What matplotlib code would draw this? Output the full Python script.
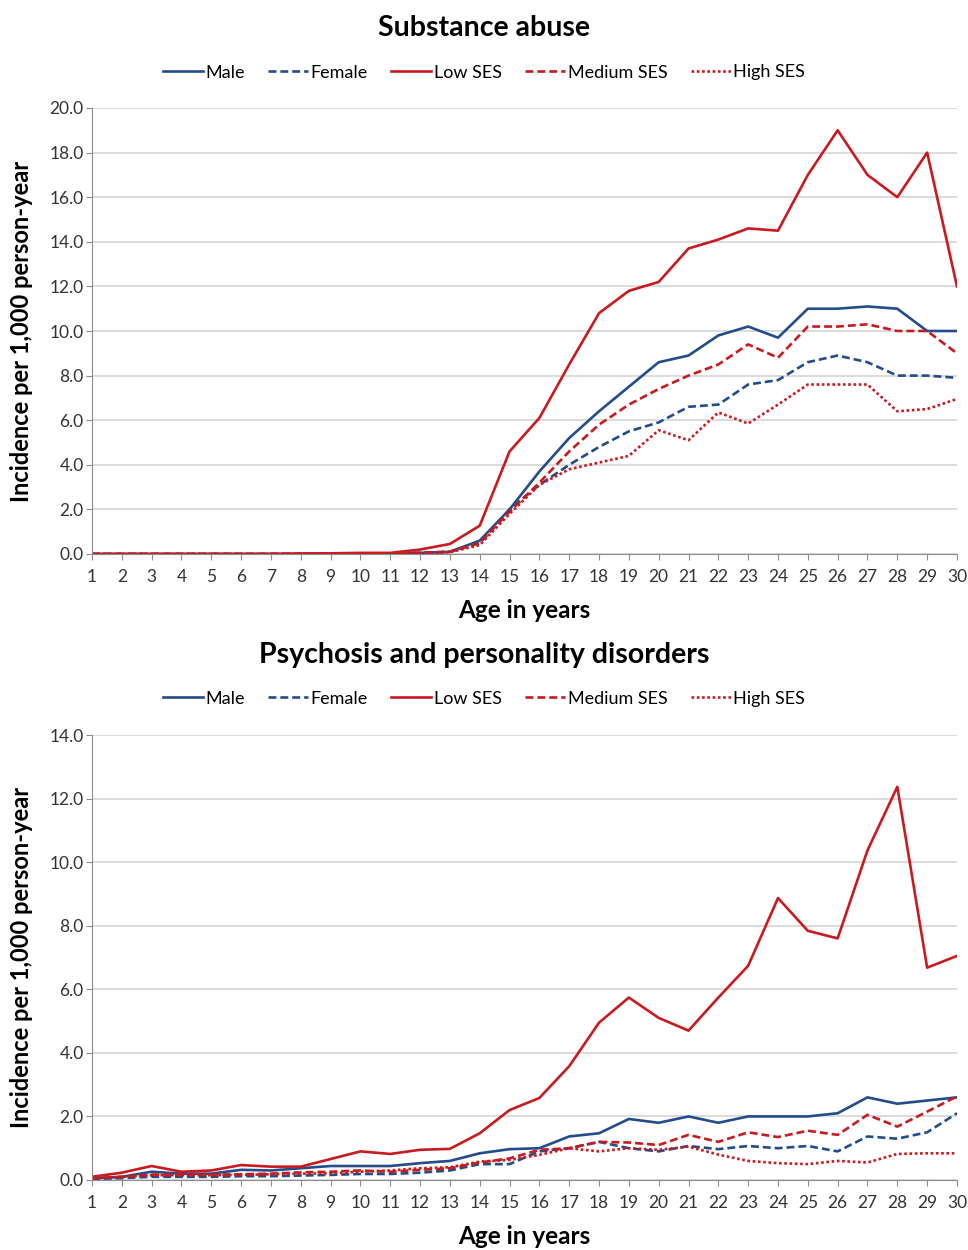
import numpy as np
import matplotlib
matplotlib.use("Agg")
import matplotlib.pyplot as plt
from matplotlib.ticker import FormatStrFormatter

plt.rcParams['font.family'] = ['Lato', 'DejaVu Sans']

ages = list(range(1, 31))
labels = ['Male', 'Female', 'Low SES', 'Medium SES', 'High SES']

# substance abuse, incidence per 1,000 person-year
sa_male = [0, 0, 0, 0, 0, 0, 0, 0, 0, 0.01, 0.02, 0.05, 0.1, 0.6, 2.0, 3.7, 5.2, 6.4, 7.5, 8.6,
           8.9, 9.8, 10.2, 9.7, 11.0, 11.0, 11.1, 11.0, 10.0, 10.0]
sa_female = [0, 0, 0, 0, 0, 0, 0, 0, 0, 0.01, 0.02, 0.05, 0.1, 0.5, 2.0, 3.1, 4.0, 4.8, 5.5, 5.9,
             6.6, 6.7, 7.6, 7.8, 8.6, 8.9, 8.6, 8.0, 8.0, 7.9]
sa_low = [0, 0, 0, 0, 0, 0, 0, 0.02, 0.03, 0.05, 0.05, 0.2, 0.45, 1.27, 4.6, 6.1, 8.5, 10.8, 11.8, 12.2,
          13.7, 14.1, 14.6, 14.5, 17.0, 19.0, 17.0, 16.0, 18.0, 12.0]
sa_med = [0, 0, 0, 0, 0, 0, 0, 0, 0, 0.01, 0.02, 0.05, 0.1, 0.5, 1.9, 3.2, 4.6, 5.8, 6.7, 7.4,
          8.0, 8.5, 9.4, 8.8, 10.2, 10.2, 10.3, 10.0, 10.0, 9.0]
sa_high = [0, 0, 0, 0, 0, 0, 0, 0, 0, 0.01, 0.02, 0.04, 0.08, 0.4, 1.8, 3.1, 3.8, 4.1, 4.4, 5.55,
           5.1, 6.35, 5.85, 6.7, 7.6, 7.6, 7.6, 6.4, 6.5, 6.95]

# psychosis and personality disorders
pp_male = [0.05, 0.1, 0.26, 0.2, 0.2, 0.32, 0.3, 0.37, 0.44, 0.44, 0.44, 0.53, 0.6, 0.84, 0.97,
           1.0, 1.37, 1.47, 1.92, 1.8, 2.0, 1.8, 2.0, 2.0, 2.0, 2.1, 2.6, 2.4, 2.5, 2.6]
pp_female = [0.03, 0.06, 0.1, 0.1, 0.1, 0.12, 0.12, 0.14, 0.16, 0.19, 0.19, 0.23, 0.3, 0.5, 0.5,
             0.9, 1.0, 1.2, 1.0, 0.9, 1.07, 0.97, 1.07, 1.0, 1.07, 0.9, 1.37, 1.3, 1.5, 2.1]
pp_low = [0.1, 0.23, 0.44, 0.26, 0.3, 0.47, 0.42, 0.42, 0.66, 0.9, 0.82, 0.95, 0.98, 1.47, 2.2,
          2.58, 3.58, 4.95, 5.74, 5.1, 4.7, 5.74, 6.74, 8.87, 7.84, 7.6, 10.37, 12.37, 6.68, 7.05]
pp_med = [0.05, 0.1, 0.17, 0.17, 0.17, 0.18, 0.2, 0.24, 0.26, 0.3, 0.26, 0.32, 0.37, 0.55, 0.68,
          0.95, 1.0, 1.2, 1.18, 1.1, 1.42, 1.2, 1.5, 1.35, 1.55, 1.42, 2.05, 1.68, 2.15, 2.63]
pp_high = [0.05, 0.1, 0.15, 0.15, 0.15, 0.16, 0.18, 0.2, 0.21, 0.26, 0.3, 0.37, 0.4, 0.58, 0.63,
           0.79, 1.0, 0.9, 1.0, 0.95, 1.05, 0.8, 0.6, 0.53, 0.5, 0.6, 0.55, 0.82, 0.84, 0.84]

blue = '#234C8A'
red = '#C81A1F'
styles = [(blue, '-'), (blue, (0, (3, 1.5))), (red, '-'), (red, (0, (3, 1.5))), (red, (0, (1, 1)))]

fig = plt.figure(figsize=(9.68, 12.5), dpi=100)


def draw(ax, series, ymax, title, title_y, legend_y):
    for s, lab, (c, ls) in zip(series, labels, styles):
        ax.plot(ages, s, color=c, linestyle=ls, lw=1.9, label=lab)
    ax.set_xlim(1, 30)
    ax.set_ylim(0, ymax)
    ax.set_xticks(ages)
    ax.set_yticks(np.arange(0, ymax + 0.1, 2))
    ax.yaxis.set_major_formatter(FormatStrFormatter('%.1f'))
    ax.grid(axis='y', color='#D9D9D9', lw=1.3)
    ax.set_axisbelow(True)
    for side in ['top', 'right']:
        ax.spines[side].set_visible(False)
    for side in ['left', 'bottom']:
        ax.spines[side].set_color('#8C8C8C')
    ax.tick_params(axis='both', direction='out', length=4, color='#8C8C8C',
                   labelsize=12.5, labelcolor='#333333')
    ax.tick_params(axis='x', pad=7)
    ax.tick_params(axis='y', pad=2)
    ax.set_xlabel('Age in years', fontsize=17.5, fontweight='bold', va='center')
    ax.xaxis.set_label_coords(0.5, -0.127)
    ax.set_ylabel('Incidence per 1,000 person-year', fontsize=17, fontweight='bold', va='center')
    ax.yaxis.set_label_coords(-0.081, 0.5)
    fig.text(0.5, title_y, title, ha='center', va='center', fontsize=20.5, fontweight='bold')
    fig.legend(*ax.get_legend_handles_labels(), loc='center', bbox_to_anchor=(0.5, legend_y),
               ncol=5, frameon=False, fontsize=13, handlelength=2.2, columnspacing=1.3,
               handletextpad=0.15)


ax1 = fig.add_axes([0.095, 0.5568, 0.8936, 0.3568])
draw(ax1, [sa_male, sa_female, sa_low, sa_med, sa_high], 20, 'Substance abuse', 0.978, 0.942)

ax2 = fig.add_axes([0.095, 0.056, 0.8936, 0.356])
draw(ax2, [pp_male, pp_female, pp_low, pp_med, pp_high], 14,
     'Psychosis and personality disorders', 0.476, 0.441)

fig.savefig('out.png', dpi=100)
